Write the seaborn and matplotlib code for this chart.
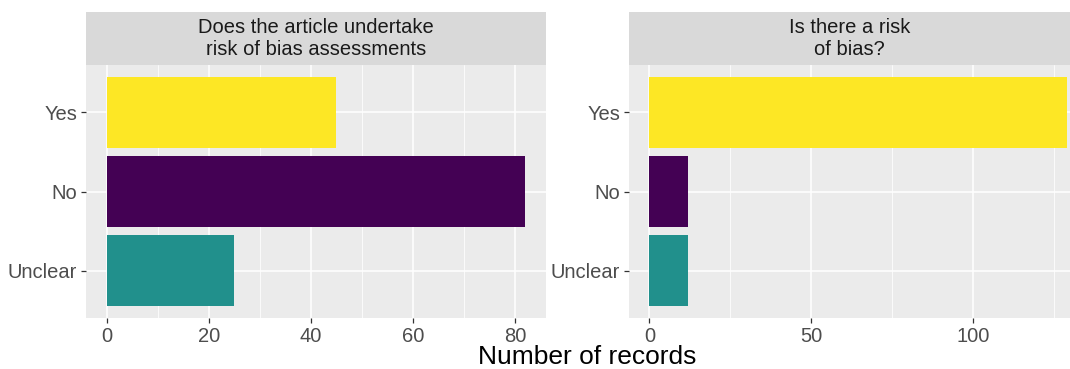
import matplotlib
matplotlib.use("Agg")
import matplotlib.pyplot as plt
import seaborn as sns
import pandas as pd
from matplotlib.ticker import MultipleLocator

categories = ["Yes", "No", "Unclear"]
assess_values = [45, 82, 25]
risk_values = [129, 12, 12]
titles = ["Does the article undertake\nrisk of bias assessments", "Is there a risk\nof bias?"]
palette = {"Yes": "#FDE725", "No": "#440154", "Unclear": "#21908C"}

sns.set_theme(style="white")
plt.rcParams["font.family"] = ["Liberation Sans", "DejaVu Sans"]

W, H = 1070, 369
fig = plt.figure(figsize=(W / 100, H / 100), dpi=100)

panels = [
    dict(vals=assess_values, x0=86, x1=546, xlim=(-4.1, 86.1), major=20, minor=10, title=titles[0]),
    dict(vals=risk_values, x0=629, x1=1070, xlim=(-6.27, 129.8), major=50, minor=25, title=titles[1]),
]
ptop, pbot = 65, 318
stop = 12

for p in panels:
    ax = fig.add_axes([p["x0"] / W, 1 - pbot / H, (p["x1"] - p["x0"]) / W, (pbot - ptop) / H])
    df = pd.DataFrame({"cat": categories, "n": p["vals"]})
    sns.barplot(data=df, y="cat", x="n", hue="cat", palette=palette, order=categories,
                orient="h", width=0.9, legend=False, ax=ax, saturation=1, zorder=3,
                linewidth=0, edgecolor="none")
    ax.set_facecolor("#EBEBEB")
    ax.set_xlim(*p["xlim"])
    ax.set_ylim(2.6, -0.6)
    ax.xaxis.set_major_locator(MultipleLocator(p["major"]))
    ax.xaxis.set_minor_locator(MultipleLocator(p["minor"]))
    ax.set_axisbelow(True)
    ax.grid(which="major", color="white", linewidth=1.1)
    ax.grid(which="minor", axis="x", color="white", linewidth=0.55)
    for s in ax.spines.values():
        s.set_visible(False)
    ax.tick_params(axis="both", which="major", length=3.5, width=0.9, color="#333333",
                   labelcolor="#4D4D4D", labelsize=14.5, pad=3)
    ax.tick_params(axis="both", which="minor", length=0)
    ax.tick_params(axis="x", bottom=True)
    ax.tick_params(axis="y", left=True)
    ax.set_xlabel("")
    ax.set_ylabel("")
    sax = fig.add_axes([p["x0"] / W, 1 - ptop / H, (p["x1"] - p["x0"]) / W, (ptop - stop) / H])
    sax.set_facecolor("#D9D9D9")
    sax.set_xticks([]); sax.set_yticks([])
    for s in sax.spines.values():
        s.set_visible(False)
    sax.text(0.5, 0.5, p["title"], ha="center", va="center", fontsize=14.5,
             color="#1A1A1A", transform=sax.transAxes, linespacing=1.15)

fig.text(587 / W, 1 - 357 / H, "Number of records", ha="center", va="center",
         fontsize=19, color="black")

fig.savefig("out.png", dpi=100, facecolor="white")
